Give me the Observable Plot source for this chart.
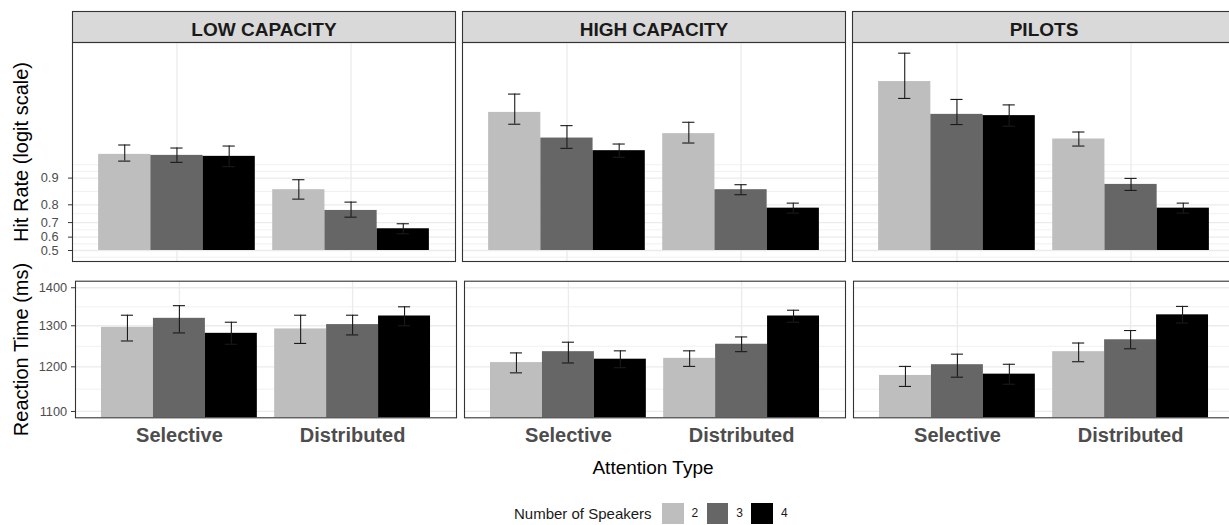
<!DOCTYPE html>
<html>
<head>
<meta charset="utf-8">
<script src="https://cdn.jsdelivr.net/npm/d3@7"></script>
<script src="https://cdn.jsdelivr.net/npm/@observablehq/plot@0.6"></script>
<style>
  html, body { margin: 0; padding: 0; background: #fff; }
  body { width: 1229px; height: 525px; overflow: hidden; position: relative;
         font-family: "Liberation Sans", Arial, Helvetica, sans-serif; }
  #chart { position: absolute; left: 0; top: 0; width: 1235px; }
  #chart svg { display: block; }
  .x-title { position: absolute; top: 457px; left: 71px; width: 1164px; text-align: center;
             font-size: 19px; line-height: 22px; color: #000; }
  .legend { position: absolute; top: 502.5px; left: 514px; height: 21.5px;
            display: flex; align-items: center; color: #1a1a1a; white-space: nowrap; }
  .legend-title { font-size: 15px; margin-right: 10.5px; }
  .legend-swatch { width: 21.5px; height: 21.5px; display: inline-block; }
  .legend-label { font-size: 12px; margin-left: 8px; margin-right: 8.5px; }
</style>
</head>
<body>
<div id="chart"></div>
<div class="x-title">Attention Type</div>
<div class="legend" id="legend"></div>
<script>
// Panels, conditions and series
const groups = ["LOW CAPACITY", "HIGH CAPACITY", "PILOTS"];
const attentionTypes = ["Selective", "Distributed"];
const speakerCounts = [2, 3, 4];
const speakerColors = ["#bebebe", "#666666", "#000000"];

// Hit rate (proportion) per group × attention × speakers, with interval bounds
const hitRate  = [0.9487, 0.9472, 0.9457, 0.8636, 0.7713, 0.6592,
                  0.9851, 0.9681, 0.9539, 0.9720, 0.8636, 0.7834,
                  0.9941, 0.9842, 0.9836, 0.9672, 0.8814, 0.7834];
const hitLower = [0.9378, 0.9355, 0.9272, 0.8262, 0.7334, 0.6244,
                  0.9788, 0.9569, 0.9442, 0.9631, 0.8446, 0.7566,
                  0.9902, 0.9786, 0.9775, 0.9597, 0.8610, 0.7566];
const hitUpper = [0.9609, 0.9573, 0.9597, 0.8955, 0.8128, 0.6925,
                  0.9914, 0.9779, 0.9620, 0.9800, 0.8805, 0.8081,
                  0.9975, 0.9899, 0.9881, 0.9733, 0.8992, 0.8081];

// Reaction time (ms) per group × attention × speakers, with interval bounds
const reactionTime = [1296, 1319, 1281, 1292, 1303, 1325,
                      1210, 1236, 1218, 1220, 1254, 1325,
                      1180, 1205, 1183, 1236, 1265, 1328];
const rtLower      = [1262, 1282, 1254, 1256, 1277, 1300,
                      1186, 1209, 1198, 1201, 1236, 1309,
                      1155, 1176, 1160, 1212, 1243, 1307];
const rtUpper      = [1327, 1352, 1309, 1327, 1327, 1349,
                      1233, 1259, 1238, 1238, 1272, 1340,
                      1201, 1230, 1206, 1257, 1288, 1350];

// Axis breaks
const hitTicks = [0.5, 0.6, 0.7, 0.8, 0.9];
const rtTicks = [1100, 1200, 1300, 1400];

const FONT = '"Liberation Sans", Arial, Helvetica, sans-serif';
const logit = p => Math.log(p / (1 - p));
const expit = z => 1 / (1 + Math.exp(-z));

// Dodged layout: groups centred on 1 and 2, three bars of width 0.3 each
const barWidth = 0.3;
const capWidth = 0.07;
const rows = [];
groups.forEach((g, gi) => attentionTypes.forEach((a, ai) => speakerCounts.forEach((s, si) => {
  const i = gi * 6 + ai * 3 + si;
  rows.push({
    group: g, attention: a, speakers: s,
    pos: ai + 1 + (si - 1) * barWidth,
    hit: hitRate[i], hitLo: hitLower[i], hitHi: hitUpper[i],
    rt: reactionTime[i], rtLo: rtLower[i], rtHi: rtUpper[i]
  });
})));

// Minor breaks halfway between major breaks (in transformed units), extended one step each side
function minorBreaks(major) {
  const step = major[1] - major[0];
  const b = [major[0] - step, ...major, major[major.length - 1] + step];
  const out = [];
  for (let i = 0; i < b.length - 1; i++) out.push(b[i], (b[i] + b[i + 1]) / 2);
  out.push(b[b.length - 1]);
  return out.filter(v => !major.some(m => Math.abs(m - v) < 1e-9));
}

const hitDomain = [-0.334, 6.313];            // logit units
const rtDomain = [1086.5, 1418];               // ms, log scale
const hitMajor = hitTicks.map(logit);
const hitMinor = minorBreaks(hitMajor).filter(v => v > hitDomain[0] && v < hitDomain[1]);
const rtMajor = rtTicks;
const rtMinor = minorBreaks(rtTicks.map(Math.log)).map(Math.exp)
  .filter(v => v > rtDomain[0] && v < rtDomain[1]);

const gridColor = "#ebebeb";
const colorScale = {type: "ordinal", domain: speakerCounts, range: speakerColors};

function errorBars(lo, hi) {
  const common = {fx: "group", stroke: "#1a1a1a", strokeWidth: 1.1};
  return [
    Plot.ruleX(rows, {...common, x: "pos", y1: lo, y2: hi}),
    Plot.ruleY(rows, {...common, y: lo, x1: d => d.pos - capWidth / 2, x2: d => d.pos + capWidth / 2}),
    Plot.ruleY(rows, {...common, y: hi, x1: d => d.pos - capWidth / 2, x2: d => d.pos + capWidth / 2})
  ];
}

// Top row: hit rate on a logit axis
const topHeight = 265, topMarginTop = 42, topMarginBottom = 4;
const topPanel = topHeight - topMarginTop - topMarginBottom;
const hitPlot = Plot.plot({
  width: 1235, height: topHeight,
  marginTop: topMarginTop, marginBottom: topMarginBottom, marginLeft: 71, marginRight: 0,
  style: {fontFamily: FONT, fontSize: "12.8px", background: "#fff", maxWidth: "none", overflow: "visible"},
  fx: {domain: groups, paddingInner: 0.0188, paddingOuter: 0, axis: null},
  x: {domain: [0.4, 2.6], axis: null},
  y: {domain: hitDomain},
  color: colorScale,
  marks: [
    // strip
    Plot.frame({fill: "#d9d9d9", stroke: "#333333", strokeWidth: 1.1, insetTop: -31, insetBottom: topPanel}),
    Plot.text(groups, {fx: d => d, text: d => d, frameAnchor: "top", lineAnchor: "bottom", dy: -6.8,
      fontSize: 19, fontWeight: "bold", fill: "#1a1a1a"}),
    Plot.ruleY(hitMinor, {stroke: gridColor, strokeWidth: 0.7}),
    Plot.ruleY(hitMajor, {stroke: gridColor, strokeWidth: 1.3}),
    Plot.ruleX([1, 2], {stroke: gridColor, strokeWidth: 1.3}),
    Plot.rect(rows, {fx: "group", x1: d => d.pos - barWidth / 2, x2: d => d.pos + barWidth / 2,
      y1: 0, y2: d => logit(d.hit), fill: "speakers"}),
    ...errorBars(d => logit(d.hitLo), d => logit(d.hitHi)),
    Plot.axisY({ticks: hitMajor, tickFormat: v => d3.format(".1f")(expit(v)), label: null,
      tickSize: 4, tickPadding: 10, stroke: "#333333", fill: "#4d4d4d"}),
    Plot.frame({stroke: "#333333", strokeWidth: 1.1}),
    Plot.text(["Hit Rate (logit scale)"], {fx: () => groups[0], text: d => d, frameAnchor: "left",
      textAnchor: "middle", rotate: -90, lineAnchor: "bottom", dx: -45, fontSize: 20, fill: "#000"})
  ]
});

// Bottom row: reaction time on a log axis
const rtPlot = Plot.plot({
  width: 1235, height: 182,
  marginTop: 15.7, marginBottom: 29.7, marginLeft: 73.3, marginRight: 0,
  style: {fontFamily: FONT, fontSize: "12.8px", background: "#fff", maxWidth: "none", overflow: "visible"},
  fx: {domain: groups, paddingInner: 0.02, paddingOuter: 0, axis: null},
  x: {domain: [0.4, 2.6]},
  y: {type: "log", domain: rtDomain},
  color: colorScale,
  marks: [
    Plot.ruleY(rtMinor, {stroke: gridColor, strokeWidth: 0.7}),
    Plot.ruleY(rtMajor, {stroke: gridColor, strokeWidth: 1.3}),
    Plot.ruleX([1, 2], {stroke: gridColor, strokeWidth: 1.3}),
    Plot.rect(rows, {fx: "group", x1: d => d.pos - barWidth / 2, x2: d => d.pos + barWidth / 2,
      y1: rtDomain[0], y2: "rt", fill: "speakers"}),
    ...errorBars("rtLo", "rtHi"),
    Plot.axisX({ticks: [1, 2], tickFormat: i => attentionTypes[i - 1], label: null,
      tickSize: 0, tickPadding: 10.2, fontSize: 20, fontWeight: "bold", fill: "#4d4d4d"}),
    Plot.axisY({ticks: rtTicks, tickFormat: d3.format("d"), label: null,
      tickSize: 4, tickPadding: 4.3, stroke: "#333333", fill: "#4d4d4d"}),
    Plot.frame({stroke: "#333333", strokeWidth: 1.1}),
    Plot.text(["Reaction Time (ms)"], {fx: () => groups[0], text: d => d, frameAnchor: "left",
      textAnchor: "middle", rotate: -90, lineAnchor: "bottom", dx: -47.8, fontSize: 20, fill: "#000"})
  ]
});

const chart = document.getElementById("chart");
chart.append(hitPlot, rtPlot);

// Legend built from the same speaker series and colours
const legend = document.getElementById("legend");
const title = document.createElement("span");
title.className = "legend-title";
title.textContent = "Number of Speakers";
legend.append(title);
speakerCounts.forEach((s, i) => {
  const sw = document.createElement("span");
  sw.className = "legend-swatch";
  sw.style.background = speakerColors[i];
  const lab = document.createElement("span");
  lab.className = "legend-label";
  lab.textContent = s;
  legend.append(sw, lab);
});
</script>
</body>
</html>
